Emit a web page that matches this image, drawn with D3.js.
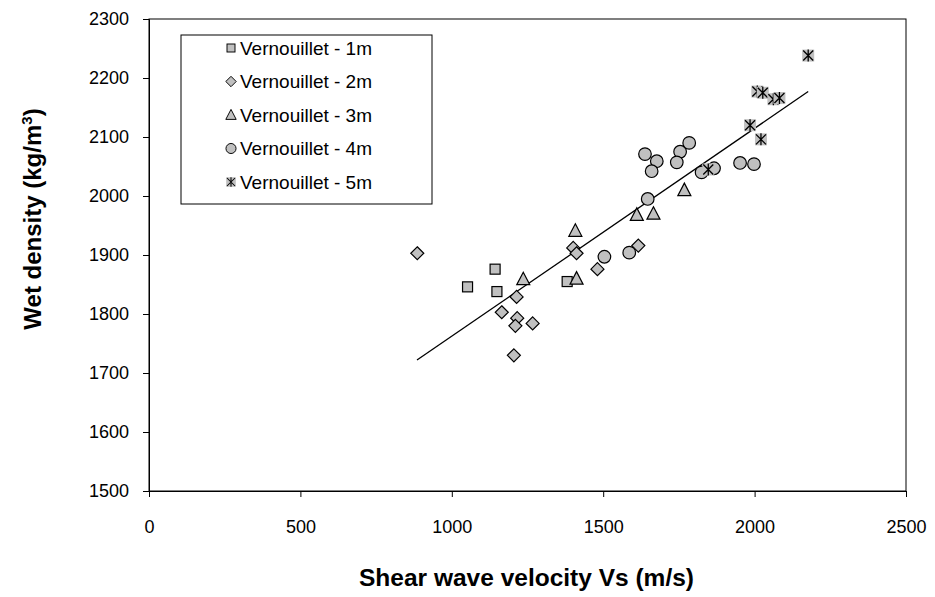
<!DOCTYPE html>
<html>
<head>
<meta charset="utf-8">
<script src="https://cdn.jsdelivr.net/npm/d3@7"></script>
<style>
  body { margin: 0; background: #fff; }
  text { font-family: Arial, "Liberation Sans", sans-serif; }
</style>
</head>
<body>
<div id="chart"></div>
<script>
// Series labels (legend order)
var seriesNames = ["Vernouillet - 1m", "Vernouillet - 2m", "Vernouillet - 3m", "Vernouillet - 4m", "Vernouillet - 5m"];
var seriesShapes = ["square", "diamond", "triangle", "circle", "star"];

// Values: shear wave velocity (m/s) and wet density (kg/m3)
var vs1m = [1052, 1143, 1149, 1381];
var rho1m = [1846, 1876, 1838, 1855];

var vs2m = [886, 1214, 1165, 1216, 1210, 1267, 1205, 1401, 1412, 1481, 1616];
var rho2m = [1903, 1829, 1803, 1793, 1780, 1784, 1730, 1912, 1903, 1876, 1916];

var vs3m = [1236, 1408, 1412, 1611, 1666, 1768];
var rho3m = [1859, 1941, 1860, 1968, 1970, 2010];

var vs4m = [1504, 1586, 1647, 1638, 1677, 1660, 1754, 1743, 1784, 1825, 1866, 1952, 1998];
var rho4m = [1897, 1904, 1995, 2071, 2059, 2042, 2075, 2057, 2090, 2040, 2047, 2056, 2054];

var vs5m = [1847, 2009, 2027, 2062, 2082, 1985, 2021, 2177];
var rho5m = [2045, 2177, 2175, 2164, 2166, 2120, 2096, 2238];

// Linear trend line end points
var trendVs = [885, 2177];
var trendRho = [1722, 2177];

// Axis ticks
var xTicks = [0, 500, 1000, 1500, 2000, 2500];
var yTicks = [1500, 1600, 1700, 1800, 1900, 2000, 2100, 2200, 2300];

var allVs = [vs1m, vs2m, vs3m, vs4m, vs5m];
var allRho = [rho1m, rho2m, rho3m, rho4m, rho5m];

var fullWidth = 935, fullHeight = 597;
var margin = { top: 19, right: 29, bottom: 106, left: 149 };
var width = fullWidth - margin.left - margin.right;
var height = fullHeight - margin.top - margin.bottom;

var svgRoot = d3.select("#chart").append("svg")
    .attr("width", fullWidth)
    .attr("height", fullHeight);

var svg = svgRoot.append("g")
    .attr("transform", "translate(" + margin.left + "," + margin.top + ")");

var x = d3.scaleLinear().domain([0, 2500]).range([0, width]);
var y = d3.scaleLinear().domain([1500, 2300]).range([height, 0]);

// plot frame
svg.append("rect")
    .attr("width", width)
    .attr("height", height)
    .attr("fill", "none")
    .attr("stroke", "#000")
    .attr("stroke-width", 1);

// axes
var xAxis = svg.append("g")
    .attr("transform", "translate(0," + height + ")")
    .call(d3.axisBottom(x).tickValues(xTicks).tickFormat(d3.format("d"))
        .tickSizeOuter(0).tickSize(6).tickPadding(23));
var yAxis = svg.append("g")
    .call(d3.axisLeft(y).tickValues(yTicks).tickFormat(d3.format("d"))
        .tickSizeOuter(0).tickSize(6).tickPadding(14));
[xAxis, yAxis].forEach(function(a) {
    a.selectAll("text").style("font-size", "18px").attr("fill", "#000")
        .style("font-family", "Arial, 'Liberation Sans', sans-serif");
    a.selectAll("line").attr("stroke", "#000");
    a.select(".domain").attr("stroke", "#000");
});

// trend line
var trendLine = d3.line().x(function(d) { return x(d[0]); }).y(function(d) { return y(d[1]); });
svg.append("path")
    .datum(d3.zip(trendVs, trendRho))
    .attr("d", trendLine)
    .attr("fill", "none")
    .attr("stroke", "#000")
    .attr("stroke-width", 1.3);

// draw a marker of a given shape centred at 0,0
function drawMarker(g, shape) {
    var fill = "#c0c0c0";
    if (shape === "square") {
        g.append("rect").attr("x", -5).attr("y", -5).attr("width", 10).attr("height", 10)
            .attr("fill", fill).attr("stroke", "#000").attr("stroke-width", 1.2);
    } else if (shape === "diamond") {
        g.append("path").attr("d", "M0,-6.5L6.5,0L0,6.5L-6.5,0Z")
            .attr("fill", fill).attr("stroke", "#000").attr("stroke-width", 1.2);
    } else if (shape === "triangle") {
        g.append("path").attr("d", "M0,-7L6.5,5.5L-6.5,5.5Z")
            .attr("fill", fill).attr("stroke", "#000").attr("stroke-width", 1.2);
    } else if (shape === "circle") {
        g.append("circle").attr("r", 6.3)
            .attr("fill", fill).attr("stroke", "#000").attr("stroke-width", 1.2);
    } else {
        g.append("rect").attr("x", -6).attr("y", -6).attr("width", 12).attr("height", 12)
            .attr("fill", fill);
        g.append("path").attr("d", "M-5,-5L5,5M-5,5L5,-5M0,-6L0,6")
            .attr("stroke", "#000").attr("stroke-width", 1.3);
    }
}

// points
seriesNames.forEach(function(name, i) {
    var pts = d3.zip(allVs[i], allRho[i]);
    svg.append("g").selectAll("g")
        .data(pts)
        .enter().append("g")
        .attr("transform", function(d) { return "translate(" + x(d[0]) + "," + y(d[1]) + ")"; })
        .each(function() { drawMarker(d3.select(this), seriesShapes[i]); });
});

// LEGEND
var legend = svgRoot.append("g").attr("transform", "translate(181,35)");
legend.append("rect")
    .attr("width", 251).attr("height", 169)
    .attr("fill", "#fff").attr("stroke", "#000").attr("stroke-width", 1);
var legendItem = legend.selectAll(".legend-item")
    .data(seriesNames)
    .enter().append("g")
    .attr("class", "legend-item")
    .attr("transform", function(d, i) { return "translate(0," + (13 + i * 33.5) + ")"; });
legendItem.each(function(d, i) {
    var g = d3.select(this);
    var m = g.append("g").attr("transform", "translate(50,0) scale(0.8)");
    drawMarker(m, seriesShapes[i]);
    g.append("text")
        .attr("x", 59).attr("y", 0).attr("dy", "0.35em")
        .style("font-size", "19px")
        .text(d);
});

// axis titles
svgRoot.append("text")
    .attr("x", margin.left + width / 2 - 1)
    .attr("y", 586)
    .attr("text-anchor", "middle")
    .style("font-size", "24.5px").style("font-weight", "bold")
    .text("Shear wave velocity Vs (m/s)");

var yTitle = svgRoot.append("text")
    .attr("transform", "translate(41," + (margin.top + height / 2 - 36) + ") rotate(-90)")
    .attr("text-anchor", "middle")
    .style("font-size", "24px").style("font-weight", "bold");
yTitle.append("tspan").text("Wet density (kg/m");
yTitle.append("tspan").attr("dy", "-9").style("font-size", "15px").text("3");
yTitle.append("tspan").attr("dy", "9").text(")");
</script>
</body>
</html>
